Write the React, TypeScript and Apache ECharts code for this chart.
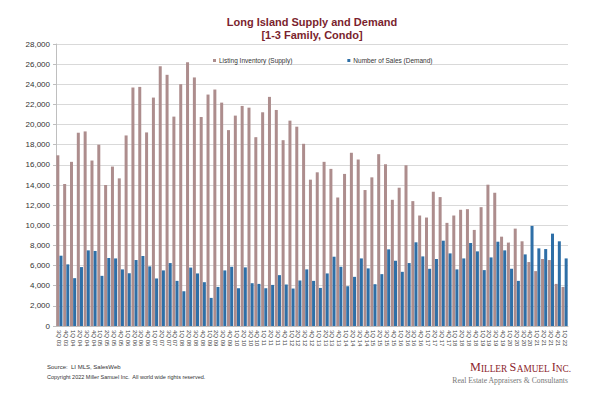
import React, { useEffect, useRef } from "react";
import * as echarts from "echarts";

const quarters: string[] = [
  "3Q 03", "4Q 03",
  "1Q 04", "2Q 04", "3Q 04", "4Q 04",
  "1Q 05", "2Q 05", "3Q 05", "4Q 05",
  "1Q 06", "2Q 06", "3Q 06", "4Q 06",
  "1Q 07", "2Q 07", "3Q 07", "4Q 07",
  "1Q 08", "2Q 08", "3Q 08", "4Q 08",
  "1Q 09", "2Q 09", "3Q 09", "4Q 09",
  "1Q 10", "2Q 10", "3Q 10", "4Q 10",
  "1Q 11", "2Q 11", "3Q 11", "4Q 11",
  "1Q 12", "2Q 12", "3Q 12", "4Q 12",
  "1Q 13", "2Q 13", "3Q 13", "4Q 13",
  "1Q 14", "2Q 14", "3Q 14", "4Q 14",
  "1Q 15", "2Q 15", "3Q 15", "4Q 15",
  "1Q 16", "2Q 16", "3Q 16", "4Q 16",
  "1Q 17", "2Q 17", "3Q 17", "4Q 17",
  "1Q 18", "2Q 18", "3Q 18", "4Q 18",
  "1Q 19", "2Q 19", "3Q 19", "4Q 19",
  "1Q 20", "2Q 20", "3Q 20", "4Q 20",
  "1Q 21", "2Q 21", "3Q 21", "4Q 21",
  "1Q 22",
];

const listingInventory: number[] = [
  16950, 14100,
  16300, 19190, 19320, 16430,
  18000, 14000, 15830, 14660,
  18920, 23680, 23740, 19220,
  22680, 25780, 24940, 20790,
  24010, 26180, 24680, 20750,
  22980, 23480, 22180, 19450,
  20890, 21850, 21680, 18750,
  21220, 22750, 21450, 18450,
  20390, 19790, 18090, 14530,
  15260, 16300, 15600, 12760,
  15100, 17200, 16530, 13500,
  14760, 17060, 16060, 12530,
  13730, 15960, 12400, 10970,
  10770, 13330, 12800, 10240,
  10970, 11540, 11600, 9540,
  11800, 14030, 13230, 8870,
  8280, 9670, 8410, 6350,
  5450, 6650, 6550, 4180,
  3880,
];

const numberOfSales: number[] = [
  6980, 6120,
  4750, 5850, 7510, 7450,
  4980, 6750, 6710, 5620,
  5250, 6550, 6950, 5920,
  4720, 5520, 6250, 4480,
  3450, 5800, 5220, 4350,
  2790, 3880, 5520, 5880,
  3750, 5820, 4250, 4180,
  3750, 4080, 5050, 4120,
  3720, 4520, 5620, 4480,
  3780, 5220, 6880, 5880,
  3950, 4880, 6710, 5720,
  4150, 5150, 7610, 6480,
  5380, 6250, 8310, 6910,
  5680, 6650, 8470, 7210,
  5620, 6710, 8240, 7410,
  5550, 6810, 8370, 7510,
  5680, 4480, 7110, 9940,
  7710, 7640, 9170, 8410,
  6710,
];

const seriesNames: string[] = ["Listing Inventory (Supply)", "Number of Sales (Demand)"];

export default function App() {
  const ref = useRef<HTMLDivElement>(null);

  useEffect(() => {
    if (!ref.current) return;
    const chart = echarts.init(ref.current, undefined, { renderer: "svg" });
    const sans = "'Liberation Sans', Arial, sans-serif";
    const serif = "'Liberation Serif', 'Times New Roman', serif";
    chart.setOption({
      animation: false,
      backgroundColor: "#ffffff",
      textStyle: { fontFamily: sans },
      grid: { left: 56, right: 32, top: 44, bottom: 73, containLabel: false },
      legend: {
        top: 52,
        left: 208,
        itemGap: 55,
        itemWidth: 3,
        itemHeight: 3,
        icon: "rect",
        textStyle: { fontSize: 6.5, color: "#333", fontFamily: sans, padding: [0, 0, 0, -2] },
        data: seriesNames,
      },
      xAxis: {
        type: "category",
        data: quarters,
        axisLine: { lineStyle: { color: "#BFBFBF", width: 1 } },
        axisTick: { show: false },
        axisLabel: {
          interval: 0,
          rotate: -90,
          fontSize: 6,
          color: "#444",
          margin: 4,
          fontFamily: sans,
        },
      },
      yAxis: {
        type: "value",
        min: 0,
        max: 28000,
        interval: 2000,
        axisLine: { show: true, lineStyle: { color: "#BFBFBF" } },
        axisTick: { show: true, length: 3, lineStyle: { color: "#BFBFBF" } },
        splitLine: { lineStyle: { color: "#D9D9D9", width: 1 } },
        axisLabel: {
          fontSize: 8,
          color: "#333",
          margin: 6,
          fontFamily: sans,
          formatter: (v: number) => v.toLocaleString("en-US"),
        },
      },
      series: [
        {
          name: seriesNames[0],
          type: "bar",
          data: listingInventory,
          barWidth: 3,
          barGap: "5%",
          itemStyle: { color: "#AD8D8D" },
        },
        {
          name: seriesNames[1],
          type: "bar",
          data: numberOfSales,
          barWidth: 3,
          itemStyle: { color: "#2E6FA7" },
        },
      ],
      graphic: [
        {
          type: "text",
          x: 312,
          y: 15,
          style: {
            text: "Long Island Supply and Demand\n[1-3 Family, Condo]",
            fontSize: 11,
            fontWeight: "bold",
            lineHeight: 13,
            fill: "#7B1F2E",
            align: "center",
            verticalAlign: "top",
            fontFamily: sans,
          },
        },
        {
          type: "text",
          x: 47,
          y: 364,
          style: {
            text: "Source:  LI MLS, SalesWeb",
            fontSize: 6,
            fill: "#333",
            fontFamily: sans,
          },
        },
        {
          type: "text",
          x: 47,
          y: 374,
          style: {
            text: "Copyright 2022 Miller Samuel Inc.  All world wide rights reserved.",
            fontSize: 5.5,
            fill: "#333",
            fontFamily: sans,
          },
        },
        {
          type: "text",
          x: 571,
          y: 361,
          style: {
            text: "{b|M}{s|ILLER }{b|S}{s|AMUEL }{b|I}{s|NC.}",
            fill: "#8B1E2C",
            fontFamily: serif,
            align: "right",
            rich: {
              b: { fontSize: 12.2, fill: "#8B1E2C", fontFamily: serif, verticalAlign: "bottom" },
              s: { fontSize: 9.3, fill: "#8B1E2C", fontFamily: serif, verticalAlign: "bottom" },
            },
          },
        },
        {
          type: "text",
          x: 568,
          y: 376,
          style: {
            text: "Real Estate Appraisers & Consultants",
            fontSize: 7.7,
            fill: "#777",
            align: "right",
            fontFamily: serif,
          },
        },
      ],
    });
    return () => chart.dispose();
  }, []);

  return <div ref={ref} style={{ width: 600, height: 399, position: "absolute", left: 0, top: 0 }} />;
}
